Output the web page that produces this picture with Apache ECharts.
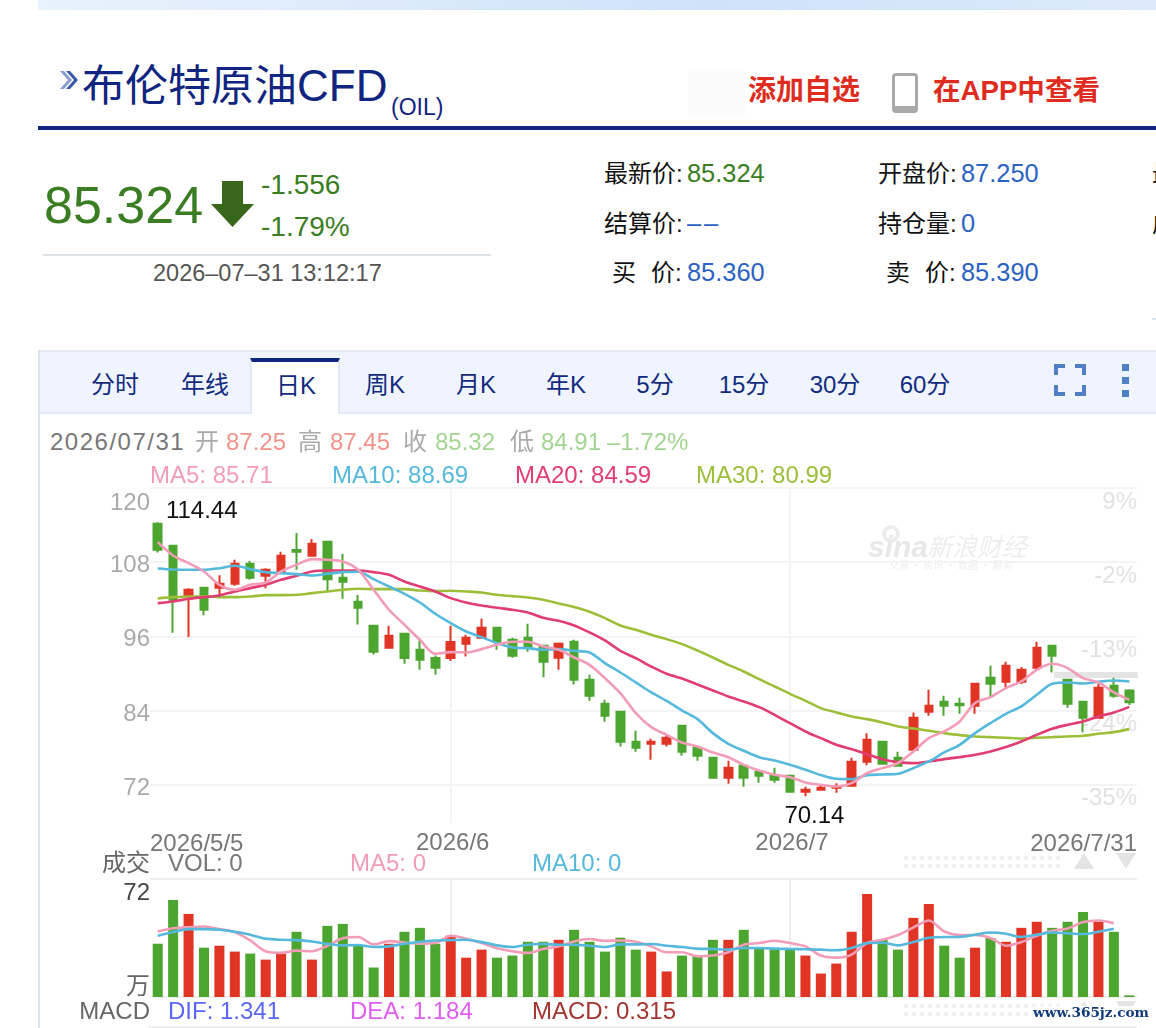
<!DOCTYPE html>
<html>
<head>
<meta charset="utf-8">
<title>布伦特原油CFD</title>
<script src="https://cdn.jsdelivr.net/npm/echarts@6/dist/echarts.min.js"></script>
<style>
html,body{margin:0;padding:0;background:#fff;width:1156px;height:1028px;overflow:hidden;font-family:"Liberation Sans","Noto Sans CJK SC",sans-serif;}
.t{position:absolute;white-space:nowrap;line-height:1;transform:translateY(-50%);}
.box{position:absolute;}
.tab{position:absolute;top:385px;transform:translate(-50%,-50%);color:#122b7f;font-size:24px;line-height:1;white-space:nowrap;}
#chart{position:absolute;left:0;top:0;width:1156px;height:1028px;}
</style>
</head>
<body>
<!-- 顶部条和标题 -->
<div class="box" style="left:38px;top:0;width:1118px;height:10px;background:linear-gradient(90deg,#e8f2fc,#cfe2fa 60%,#dceafb);"></div>
<svg class="box" style="left:58px;top:70px" width="20" height="20" viewBox="0 0 20 20"><path d="M2 1 L10 10 L2 19 L6 19 L14 10 L6 1Z" fill="#8a9cd0"/><path d="M8 1 L16 10 L8 19 L12 19 L20 10 L12 1Z" fill="#3c58a8"/></svg>
<div class="t" style="left:82px;top:86px;font-size:43px;color:#0f2580;">布伦特原油<span style="font-size:44px">CFD</span></div>
<div class="t" style="left:391px;top:107px;font-size:23px;color:#0f2580;">(OIL)</div>
<div class="box" style="left:688px;top:71px;width:57px;height:46px;background:#fbfbfb;"></div>
<div class="t" style="left:748px;top:91px;font-size:28px;color:#df2c20;font-weight:700;">添加自选</div>
<div class="box" style="left:892px;top:73px;width:20px;height:30px;border:3px solid #a9a9a9;border-bottom-width:7px;border-radius:4px;"></div>
<div class="t" style="left:933px;top:91px;font-size:27.6px;color:#df2c20;font-weight:700;">在APP中查看</div>
<div class="box" style="left:38px;top:126px;width:1118px;height:4px;background:#0f2580;"></div>

<!-- 报价 -->
<div class="t" style="left:44px;top:205px;font-size:52px;color:#3a7d22;">85.324</div>
<svg class="box" style="left:211px;top:181px" width="43" height="46" viewBox="0 0 43 46"><path d="M11 0H32V23H43L21.5 46L0 23H11Z" fill="#38661b"/></svg>
<div class="t" style="left:261px;top:185px;font-size:28px;color:#3a7d22;">-1.556</div>
<div class="t" style="left:261px;top:227px;font-size:28px;color:#3a7d22;">-1.79%</div>
<div class="box" style="left:43px;top:254px;width:448px;height:2px;background:#dde2e6;"></div>
<div class="t" style="left:153px;top:274px;font-size:23.5px;color:#555;">2026–07–31 13:12:17</div>

<div class="t" style="left:604px;top:174px;font-size:24px;color:#111;">最新价:</div>
<div class="t" style="left:687px;top:174px;font-size:25.4px;color:#3a7d22;">85.324</div>
<div class="t" style="left:878px;top:174px;font-size:24px;color:#111;">开盘价:</div>
<div class="t" style="left:961px;top:174px;font-size:25.4px;color:#2b62c4;">87.250</div>
<div class="t" style="left:1152px;top:174px;font-size:24px;color:#111;">最高价:</div>
<div class="t" style="left:604px;top:224px;font-size:24px;color:#111;">结算价:</div>
<div class="t" style="left:687px;top:224px;font-size:25.4px;color:#2b62c4;letter-spacing:3px;">––</div>
<div class="t" style="left:878px;top:224px;font-size:24px;color:#111;">持仓量:</div>
<div class="t" style="left:961px;top:224px;font-size:25.4px;color:#2b62c4;">0</div>
<div class="t" style="left:1152px;top:224px;font-size:24px;color:#111;">成交量:</div>
<div class="t" style="left:612px;top:273px;font-size:24px;color:#111;">买</div>
<div class="t" style="left:651px;top:273px;font-size:24px;color:#111;">价:</div>
<div class="t" style="left:687px;top:273px;font-size:25.4px;color:#2b62c4;">85.360</div>
<div class="t" style="left:886px;top:273px;font-size:24px;color:#111;">卖</div>
<div class="t" style="left:925px;top:273px;font-size:24px;color:#111;">价:</div>
<div class="t" style="left:961px;top:273px;font-size:25.4px;color:#2b62c4;">85.390</div>
<div class="box" style="left:1152px;top:318px;width:4px;height:2px;background:#d5e5f2;"></div>

<!-- 周期切换栏 -->
<div class="box" style="left:38px;top:350px;width:2px;height:678px;background:#d5e5f2;"></div>
<div class="box" style="left:40px;top:350px;width:1116px;background:#eff4fe;border-top:2px solid #e4e9f4;border-bottom:2px solid #e1e7f3;box-sizing:border-box;height:64px;"></div>
<div class="box" style="left:250px;top:358px;width:90px;height:56px;background:#fff;box-sizing:border-box;border:2px solid #e1e7f3;border-top:4px solid #0f2580;border-bottom:none;"></div>
<div class="tab" style="left:115px">分时</div>
<div class="tab" style="left:205px">年线</div>
<div class="tab" style="left:296px;top:386px">日K</div>
<div class="tab" style="left:385px">周K</div>
<div class="tab" style="left:476px">月K</div>
<div class="tab" style="left:566px">年K</div>
<div class="tab" style="left:655px">5分</div>
<div class="tab" style="left:744px">15分</div>
<div class="tab" style="left:835px">30分</div>
<div class="tab" style="left:925px">60分</div>
<svg class="box" style="left:1054px;top:364px" width="32" height="32" viewBox="0 0 32 32" fill="none" stroke="#4f7fc6" stroke-width="4"><path d="M2 11V2H11M21 2H30V11M30 21V30H21M11 30H2V21"/></svg>
<div class="box" style="left:1122px;top:364px;width:7px;height:7px;background:#4f7fc6;"></div>
<div class="box" style="left:1122px;top:377px;width:7px;height:7px;background:#4f7fc6;"></div>
<div class="box" style="left:1122px;top:390px;width:7px;height:7px;background:#4f7fc6;"></div>

<div class="t" style="left:50px;top:442px;font-size:24px;color:#777;letter-spacing:1.5px;">2026/07/31</div>
<div id="chart"></div>

<script>
// 日期
var dates = ["2026/5/5","2026/5/6","2026/5/7","2026/5/8","2026/5/11","2026/5/12","2026/5/13","2026/5/14","2026/5/15","2026/5/18","2026/5/19","2026/5/20","2026/5/21","2026/5/22","2026/5/25","2026/5/26","2026/5/27","2026/5/28","2026/5/29",
  "2026/6/1","2026/6/2","2026/6/3","2026/6/4","2026/6/5","2026/6/8","2026/6/9","2026/6/10","2026/6/11","2026/6/12","2026/6/15","2026/6/16","2026/6/17","2026/6/18","2026/6/19","2026/6/22","2026/6/23","2026/6/24","2026/6/25","2026/6/26","2026/6/29","2026/6/30",
  "2026/7/1","2026/7/2","2026/7/3","2026/7/6","2026/7/7","2026/7/8","2026/7/9","2026/7/10","2026/7/13","2026/7/14","2026/7/15","2026/7/16","2026/7/17","2026/7/20","2026/7/21","2026/7/22","2026/7/23","2026/7/24","2026/7/27","2026/7/28","2026/7/29","2026/7/30","2026/7/31"];

// K线
var opens = [114.2,110.65,102.56,103.85,103.85,104.5,107.74,105.8,106.44,109.97,109.03,111.3,105.47,101.6,97.7,94.14,96.4,93.82,92.5,92.5,94.79,95.76,97.38,95.44,95.76,94.47,92.53,95.12,88.97,85.08,83.79,78.93,78.61,78.61,81.52,77.96,76.35,73.11,75.05,74.08,73.43,73.43,70.84,71.17,71.5,71.82,75.7,78.94,76.35,77.64,83.79,85.41,85.09,84.76,89.29,88.65,88.65,90.91,94.47,88.97,85.41,82.82,88.0,87.25];
var closes = [110.0,101.9,103.53,100.3,104.5,107.74,105.47,106.77,109.03,109.68,110.97,105.25,104.82,100.62,93.5,96.09,92.5,92.2,90.9,95.1,95.76,97.38,95.12,92.85,94.15,91.88,94.79,88.97,86.38,83.14,78.93,77.96,78.93,79.58,77.32,76.67,73.11,74.73,73.11,73.43,72.79,70.84,71.17,71.5,71.7,75.7,79.26,75.38,75.06,82.82,84.76,84.76,84.87,88.32,88.32,91.24,90.59,94.15,92.85,85.09,82.82,87.68,86.38,85.32];
var lows = [109.57,96.6,95.9,99.43,102.45,104.17,105.15,103.8,106.44,106.76,108.92,103.3,102.07,97.9,93.07,94.14,91.55,90.6,89.8,92.0,92.74,95.76,93.82,92.53,93.5,89.4,90.58,88.21,85.57,82.17,78.18,77.32,76.02,78.18,76.67,75.86,72.95,72.14,71.65,72.3,72.3,70.7,70.14,71.0,70.69,71.82,75.16,75.38,75.06,77.64,83.15,83.15,83.47,83.47,86.17,87.68,88.3,90.48,90.16,84.44,80.45,82.82,86.06,84.91];
var highs = [114.44,110.65,103.8,103.85,105.9,108.38,108.17,107.03,109.68,112.7,111.73,111.4,109.35,102.7,97.7,97.7,96.4,95.7,92.9,97.7,96.25,98.84,97.38,95.76,98.03,94.47,95.0,95.44,89.78,85.73,83.79,80.71,79.42,80.17,81.52,78.2,76.45,75.86,75.05,74.08,74.73,73.43,71.65,71.82,72.25,76.35,80.34,79.05,77.32,83.69,87.35,86.38,86.06,88.32,91.24,91.88,91.02,95.12,94.47,88.97,85.41,88.32,89.29,87.45];

// 均线
var ma5 = [111.24,109.08,107.84,106.5,104.34,103.53,104.34,104.7,106.5,107.57,108.5,108.38,108.1,106.77,103.53,100.3,97.87,95.44,93.17,93.44,93.39,93.93,94.63,95.12,95.12,94.36,93.82,92.58,91.39,89.24,86.81,83.57,81.31,80.07,78.83,78.18,77.21,76.45,75.21,74.29,73.6,73.22,72.36,71.98,71.71,72.25,73.87,74.68,75.49,77.37,79.53,80.61,82.23,85.2,86.17,87.62,88.7,90.59,91.56,90.86,89.24,88.54,86.92,85.71];
var ma10 = [106.98,106.82,106.77,106.77,107.03,107.41,106.87,106.39,106.22,106.06,105.85,106.12,106.39,106.44,105.25,104.07,102.88,101.48,99.65,98.13,96.79,95.87,94.9,94.2,94.09,93.82,93.93,93.66,93.39,91.66,90.15,88.54,86.92,85.57,84.0,82.6,80.34,78.61,77.48,76.45,75.91,75.21,74.41,73.55,72.95,72.9,73.55,73.65,73.76,74.68,75.76,77.21,78.45,80.34,81.96,83.47,84.66,86.54,88.32,88.54,88.38,88.65,88.86,88.69];
var ma20 = [101.37,101.64,102.07,102.34,102.61,103.26,103.8,104.34,105.15,105.8,106.5,106.66,106.66,106.66,106.39,105.96,104.88,104.07,103.26,102.18,101.48,100.99,100.62,100.29,99.86,99.0,98.51,97.76,96.63,95.33,93.66,92.47,91.12,89.94,89.18,88.21,87.24,86.27,85.46,84.54,83.3,81.95,80.61,79.53,78.45,77.75,76.94,76.13,75.65,75.49,75.76,76.13,76.46,76.84,77.37,78.08,78.99,80.07,81.04,81.69,82.23,83.04,83.69,84.59];
var ma30 = [102.13,102.34,102.45,102.45,102.34,102.34,102.45,102.67,102.67,102.72,102.99,103.26,103.53,103.69,103.64,103.64,103.64,103.42,103.31,103.37,103.26,103.1,102.72,102.51,102.29,101.91,101.32,100.73,99.97,98.95,97.76,97.06,96.25,95.55,94.74,93.71,92.58,91.39,90.32,89.07,87.89,86.7,85.57,84.39,83.69,83.04,82.61,82.07,81.42,81.1,80.72,80.34,80.02,79.8,79.69,79.59,79.48,79.59,79.69,79.8,79.91,80.23,80.5,80.99];

// 成交量(万)
var volumes = [32.5,59.2,50.7,30.1,31.3,27.7,26.5,22.8,26.5,39.8,22.8,43.4,44.6,31.3,18,32.5,39.8,42.2,32.5,37.4,24,28.9,24,25.3,33.7,33.7,34.9,41,33.7,27.7,36.2,28.9,27.7,15.6,25.3,25.3,34.9,34.9,41,29.9,29.9,28.9,25.3,14.3,20.4,39.8,62.8,34.9,28.9,48.3,56.8,31.3,24,30.1,36,33.7,42.2,45.9,42.2,45.9,51.9,45.9,39.8,1];
var volMa5 = [40,42,42.6,43,41.4,39.6,34.5,27.9,26.9,28.3,27.9,31.3,35.8,36.6,32.1,34.1,33.3,32.5,32.9,37.4,35.6,32.9,29.7,27.9,26.9,29.3,30.9,33.9,35.4,34.3,34.5,33.7,30.9,27.3,27.3,24.8,25.3,27.3,31.9,32.9,34.3,32.9,30.9,25.3,24,25.9,32.9,34.9,37.8,42.4,46.7,40,37.8,37.8,36,31.3,33.5,37.4,40.4,41.8,45.7,46.7,45,null];
var volMa10 = [37.4,39.6,41.4,41.4,41,39.8,38,35.6,34.9,34.7,33.9,32.5,31.5,31.7,30.5,30.9,32.5,33.7,34.5,34.7,34.9,33.5,31.5,30.5,31.9,32.3,31.9,31.9,31.3,30.5,32.1,32.1,32.3,31.3,30.5,29.5,29.3,28.9,29.9,29.9,29.5,29.3,29.1,28.9,28.5,29.9,32.9,33.1,31.5,33.5,36.2,36.6,36.6,38,39.4,38.6,36.6,38,39.4,38.8,38.4,39.8,41.6,null];

// 刻度
var priceTicks = [72,84,96,108,120];
var pctTicks = ["-35%","-24%","-13%","-2%","9%"];
var monthTicks = ["2026/6/1","2026/7/1"];
var monthLabels = ["2026/6","2026/7"];
var firstDateLabel = "2026/5/5", lastDateLabel = "2026/7/31";
var maxPoint = 114.44, minPoint = 70.14;

var UP = "#e03424", DOWN = "#4ca52e";
var C5 = "#f29cb8", C10 = "#55b9dc", C20 = "#e23d72", C30 = "#9cbf3a";
var FONT = '"Liberation Sans","Noto Sans CJK SC",sans-serif';
var FS = 24;
var LW = 2.6;

(function(){
    var myChart = echarts.init(document.getElementById("chart"));

    var candles = dates.map(function(d,i){
      return [opens[i],closes[i],lows[i],highs[i]];
    });

    function isMonth(i,name){ return monthTicks.indexOf(dates[i])>=0; }

    // 画布文字比页面文字偏上一点,统一下移
    function txt(x,y,s,color,align,size){
      return {type:"text",silent:true,z:20,style:{x:x,y:y+2,text:s,fill:color,font:(size||FS)+"px "+FONT,textAlign:align||"left",textVerticalAlign:"middle"}};
    }

    // 信息行
    var g = [];
    var rows = [
      [195,"开","#aaa"],[226,"87.25","#f1938a"],[298,"高","#aaa"],[330,"87.45","#f1938a"],
      [403,"收","#aaa"],[435,"85.32","#a3d592"],[510,"低","#aaa"],[541,"84.91","#a3d592"],[607,"–1.72%","#a3d592"]
    ];
    rows.forEach(function(r){ g.push(txt(r[0],441,r[1],r[2])); });
    g.push(txt(150,474,"MA5: "+ma5[63],C5));
    g.push(txt(332,474,"MA10: "+ma10[63],C10));
    g.push(txt(515,474,"MA20: "+ma20[63],C20));
    g.push(txt(696,474,"MA30: "+ma30[63],C30));
    g.push(txt(150,842,firstDateLabel,"#777"));
    g.push(txt(1137,842,lastDateLabel,"#777","right"));
    g.push(txt(150,862,"成交","#666","right"));
    g.push(txt(168,862,"VOL: 0","#777"));
    g.push(txt(350,862,"MA5: 0",C5));
    g.push(txt(532,862,"MA10: 0",C10));
    g.push(txt(150,1010,"MACD","#666","right"));
    g.push(txt(168,1010,"DIF: 1.341","#5a66f5"));
    g.push(txt(350,1010,"DEA: 1.184","#df5df0"));
    g.push(txt(532,1010,"MACD: 0.315","#a33530"));

    // 水印
    g.push({type:"ring",silent:true,z:1,shape:{cx:891,cy:534,r:9,r0:5},style:{fill:"#ececec"}});
    g.push({type:"text",silent:true,z:1,style:{x:868,y:549,text:"sina",fill:"#e8e8e8",font:'italic bold 30px "Liberation Sans"',textVerticalAlign:"middle"}});
    g.push({type:"text",silent:true,z:1,style:{x:927,y:546,text:"新浪财经",fill:"#ededed",font:'italic 25px "Noto Sans CJK SC"',textVerticalAlign:"middle"}});
    g.push({type:"text",silent:true,z:1,style:{x:889,y:565,text:"交易 · 资讯 · 数据 · 服务",fill:"#eeeeee",font:'10px "Noto Sans CJK SC"',textVerticalAlign:"middle"}});

    // 当前价灰条
    g.push({type:"rect",silent:true,z:1,shape:{x:1054,y:672,width:84,height:6},style:{fill:"#e4e4e4"}});

    // 拖动点和三角
    [858,866,1006,1014].forEach(function(y){
      for(var k=0;k<20;k++){
        g.push({type:"circle",silent:true,z:3,shape:{cx:906+k*8,cy:y,r:2},style:{fill:"#ececec"}});
      }
    });
    [853,1001].forEach(function(y){
      g.push({type:"polygon",silent:true,z:3,shape:{points:[[1074,y+16],[1084,y],[1094,y+16]]},style:{fill:"#e4e4e4"}});
      g.push({type:"polygon",silent:true,z:3,shape:{points:[[1116,y],[1136,y],[1126,y+16]]},style:{fill:"#e4e4e4"}});
    });

    // MACD底线
    g.push({type:"rect",silent:true,z:3,shape:{x:149,y:1026,width:988,height:2},style:{fill:"#eeeeee"}});

    // 角标
    g.push({type:"text",silent:true,z:30,style:{x:1033,y:1013,text:"www.365jz.com",fill:"#123a7a",font:'bold 13.6px "DejaVu Serif"',textVerticalAlign:"middle",backgroundColor:"rgba(255,255,255,.85)"}});

    var option = {
        animation:false,
        textStyle:{fontFamily:FONT},
        graphic:{elements:g},
        axisPointer:{show:false},
        grid:[
          {left:150,right:19,top:488,height:335},
          {left:150,right:19,top:879,height:118}
        ],
        xAxis:[
          {
            type:"category",gridIndex:0,data:dates,
            axisLine:{show:false},
            axisTick:{show:false},
            axisLabel:{
              color:"#777",fontSize:FS,margin:8,padding:[0,0,0,4],
              interval:isMonth,
              formatter:function(v){ return monthLabels[monthTicks.indexOf(v)]; }
            },
            splitLine:{show:true,alignWithLabel:true,interval:isMonth,lineStyle:{color:"#f4f4f4",width:2}}
          },
          {
            type:"category",gridIndex:1,data:dates,
            axisLine:{show:false},
            axisTick:{show:false},
            axisLabel:{show:false},
            splitLine:{show:true,alignWithLabel:true,interval:isMonth,lineStyle:{color:"#eeeeee",width:2}}
          }
        ],
        yAxis:[
          {
            type:"value",gridIndex:0,min:65.8,max:120,
            axisLine:{show:false},
            axisTick:{show:false,customValues:priceTicks},
            axisLabel:{
              customValues:priceTicks,fontSize:FS,margin:0,verticalAlignMaxLabel:"top",
              formatter:function(v){ return (v===120?"{t|":"{n|")+v+"}"; },
              rich:{
                t:{fontSize:FS,color:"#aaa",padding:[3,0,0,0]},
                n:{fontSize:FS,color:"#aaa",padding:[7,0,0,0]}
              }
            },
            splitLine:{lineStyle:{color:"#f4f4f4",width:2}}
          },
          {
            type:"value",gridIndex:0,position:"right",min:65.8,max:120,
            axisLine:{show:false},
            axisTick:{show:false,customValues:priceTicks},
            axisLabel:{
              customValues:priceTicks,inside:true,margin:0,color:"#e2e2e2",fontSize:FS,verticalAlign:"top",padding:[2,0,0,0],
              formatter:function(v){ return pctTicks[priceTicks.indexOf(v)]; }
            },
            splitLine:{show:false}
          },
          {
            type:"value",gridIndex:1,min:0,max:72,interval:72,
            axisLine:{show:false},
            axisTick:{show:false},
            axisLabel:{
              fontSize:FS,margin:0,
              verticalAlignMaxLabel:"top",verticalAlignMinLabel:"middle",
              formatter:function(v){ return v===0?"{u|万}":"{m|"+v+"}"; },
              rich:{
                u:{fontSize:FS,color:"#666",padding:[0,0,20,0]},
                m:{fontSize:FS,color:"#444",padding:[2,0,0,0]}
              }
            },
            splitLine:{lineStyle:{color:"#eeeeee",width:2}}
          }
        ],
        series:[
          {
            name:"K",type:"candlestick",xAxisIndex:0,yAxisIndex:0,
            barWidth:8,
            data:candles,
            itemStyle:{color:UP,color0:DOWN,borderColor:UP,borderColor0:DOWN,borderWidth:2},
            markPoint:{
              symbol:"circle",symbolSize:0,silent:true,
              label:{color:"#111",fontSize:FS},
              data:[
                {coord:[dates[highs.indexOf(maxPoint)],maxPoint],value:maxPoint,label:{offset:[44,-11]}},
                {coord:[dates[lows.indexOf(minPoint)],minPoint],value:minPoint,label:{offset:[9,20]}}
              ]
            }
          },
          {name:"MA30",type:"line",xAxisIndex:0,yAxisIndex:0,data:ma30,smooth:.3,symbol:"none",lineStyle:{color:C30,width:LW}},
          {name:"MA20",type:"line",xAxisIndex:0,yAxisIndex:0,data:ma20,smooth:.3,symbol:"none",lineStyle:{color:C20,width:LW}},
          {name:"MA10",type:"line",xAxisIndex:0,yAxisIndex:0,data:ma10,smooth:.3,symbol:"none",lineStyle:{color:C10,width:LW}},
          {name:"MA5",type:"line",xAxisIndex:0,yAxisIndex:0,data:ma5,smooth:.3,symbol:"none",lineStyle:{color:C5,width:LW}},
          {
            name:"VOL",type:"bar",xAxisIndex:1,yAxisIndex:2,barWidth:10,
            data:volumes,
            itemStyle:{
              color:function(p){ return closes[p.dataIndex]>opens[p.dataIndex]?UP:DOWN; }
            }
          },
          {name:"VOLMA5",type:"line",xAxisIndex:1,yAxisIndex:2,data:volMa5,smooth:.3,symbol:"none",lineStyle:{color:C5,width:LW}},
          {name:"VOLMA10",type:"line",xAxisIndex:1,yAxisIndex:2,data:volMa10,smooth:.3,symbol:"none",lineStyle:{color:C10,width:LW}}
        ]
    };
    myChart.setOption(option);
    window.addEventListener("resize",function(){
      myChart.resize();
    });
})();
</script>
</body>
</html>
